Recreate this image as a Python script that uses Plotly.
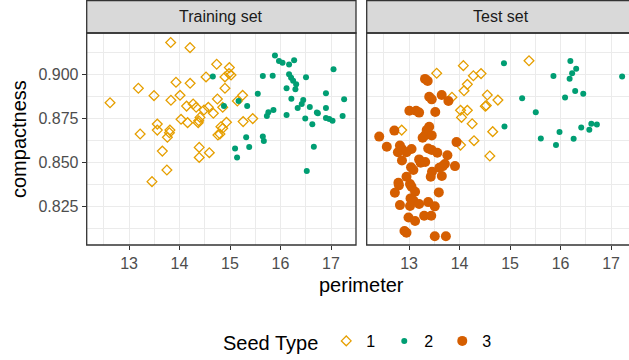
import plotly.graph_objects as go

# ---- Training set ----
train_perim_1 = [13.825, 14.208, 14.736, 14.987, 14.525, 14.90, 14.98, 15.02, 13.93, 14.21,
                 13.185, 13.495, 14.01, 13.83, 14.90, 15.25, 15.145, 14.75, 12.624, 14.14,
                 14.27, 14.33, 14.485, 14.57, 14.67, 14.855, 14.406, 14.03, 14.16, 14.37,
                 14.38, 14.93, 15.26, 15.45, 13.56, 13.56, 13.22, 13.81, 13.80, 13.76,
                 14.82, 14.855, 14.76, 14.80, 14.39, 14.39, 14.59, 13.66, 13.75, 13.455]
train_compact_1 = [0.9180, 0.9151, 0.9057, 0.9038, 0.8985, 0.8985, 0.9004, 0.8996, 0.8955, 0.8949,
                   0.8921, 0.8879, 0.8881, 0.8853, 0.8921, 0.8881, 0.8849, 0.8860, 0.8839, 0.8820,
                   0.8832, 0.8813, 0.8798, 0.8813, 0.8779, 0.8813, 0.8756, 0.8745, 0.8726, 0.8726,
                   0.8737, 0.8728, 0.8732, 0.8749, 0.8718, 0.8684, 0.8662, 0.8684, 0.8669, 0.8643,
                   0.8703, 0.8694, 0.8656, 0.8662, 0.8586, 0.8529, 0.8556, 0.8565, 0.8458, 0.8392]

train_perim_2 = [15.89, 15.97, 16.04, 16.17, 16.27, 17.05, 14.66, 15.65, 15.845, 16.17,
                 16.21, 16.25, 16.31, 16.505, 16.12, 16.295, 15.55, 16.90, 16.215, 15.17,
                 16.45, 16.42, 17.26, 14.88, 15.34, 16.34, 16.58, 16.90, 16.72, 16.74,
                 15.86, 15.76, 15.73, 16.12, 16.49, 16.90, 16.965, 17.03, 17.23, 16.63,
                 15.32, 15.65, 15.67, 15.10, 15.38, 15.14, 16.66, 16.52]
train_compact_2 = [0.9106, 0.9076, 0.9066, 0.9055, 0.9079, 0.9028, 0.8987, 0.8991, 0.8992, 0.9000,
                   0.8981, 0.8964, 0.8943, 0.8983, 0.8921, 0.8915, 0.8890, 0.8892, 0.8862, 0.8849,
                   0.8854, 0.8832, 0.8858, 0.8820, 0.8820, 0.8809, 0.8815, 0.8809, 0.8783, 0.8779,
                   0.8798, 0.8785, 0.8764, 0.8769, 0.8749, 0.8752, 0.8747, 0.8737, 0.8764, 0.8717,
                   0.8643, 0.8647, 0.8622, 0.8580, 0.8588, 0.8528, 0.8590, 0.8452]

# ---- Test set ----
test_perim_1 = [13.548, 14.076, 14.274, 14.426, 14.155, 14.089, 15.376, 13.85, 14.55, 14.76,
                14.51, 14.53, 14.02, 14.155, 14.04, 14.25, 12.855, 14.657, 14.287, 14.02, 14.60]
test_compact_1 = [0.9006, 0.9049, 0.8992, 0.9004, 0.8943, 0.8907, 0.9077, 0.8870, 0.8883, 0.8854,
                  0.8819, 0.8823, 0.8796, 0.8796, 0.8756, 0.8720, 0.8684, 0.8675, 0.8624, 0.8599, 0.8537]

test_perim_2 = [14.88, 16.195, 16.31, 16.23, 15.86, 16.18, 17.22, 16.29, 16.45, 16.09,
                15.24, 15.51, 14.89, 16.61, 16.72, 16.41, 16.57, 15.98, 15.61, 16.26, 15.91]
test_compact_2 = [0.9062, 0.9076, 0.9032, 0.9006, 0.8991, 0.8975, 0.8987, 0.8906, 0.8890, 0.8868,
                  0.8864, 0.8785, 0.8705, 0.8720, 0.8715, 0.8698, 0.8686, 0.8673, 0.8637, 0.8635, 0.8599]

test_perim_3 = [13.317, 13.37, 13.647, 13.40, 13.45, 13.78, 13.007, 13.14, 13.20, 13.52,
                13.40, 13.35, 12.71, 12.41, 13.317, 13.45, 13.27, 13.94, 12.56, 12.82,
                12.86, 12.78, 13.05, 12.95, 13.38, 13.45, 13.56, 13.76, 12.86, 13.20,
                13.23, 13.32, 13.71, 13.67, 13.91, 13.04, 13.086, 13.455, 13.60, 13.43,
                13.65, 12.95, 12.79, 12.80, 13.02, 13.05, 13.12, 12.72, 13.59, 13.03,
                13.09, 13.20, 12.82, 13.02, 13.38, 13.51, 12.99, 13.30, 13.44, 13.12,
                12.91, 12.95, 13.51, 13.73]
test_compact_3 = [0.8974, 0.8962, 0.8883, 0.8873, 0.8858, 0.8849, 0.8794, 0.8794, 0.8783, 0.8786,
                  0.8703, 0.8684, 0.8681, 0.8647, 0.8654, 0.8654, 0.8641, 0.8616, 0.8590, 0.8596,
                  0.8577, 0.8558, 0.8577, 0.8558, 0.8580, 0.8571, 0.8556, 0.8541, 0.8512, 0.8518,
                  0.8499, 0.8503, 0.8492, 0.8480, 0.8480, 0.8473, 0.8458, 0.8448, 0.8471, 0.8420,
                  0.8424, 0.8420, 0.8386, 0.8371, 0.8378, 0.8363, 0.8335, 0.8329, 0.8331, 0.8297,
                  0.8284, 0.8265, 0.8259, 0.8254, 0.8276, 0.8252, 0.8189, 0.8199, 0.8199, 0.8169,
                  0.8112, 0.8102, 0.8083, 0.8083]

x_ticks = [13, 14, 15, 16, 17]
y_ticks = [0.825, 0.850, 0.875, 0.900]
y_ticklabels = ["0.825", "0.850", "0.875", "0.900"]
panel_titles = ["Training set", "Test set"]
seed_names = ["1", "2", "3"]

C1, C2, C3 = "#E69F00", "#009E73", "#D55E00"
FONT = "Liberation Sans, Arial, sans-serif"
W, H = 629, 360

def s1(x, y, xa, ya, show):
    return go.Scatter(x=x, y=y, mode="markers", name=seed_names[0], legendgroup="1",
                      showlegend=show, xaxis=xa, yaxis=ya,
                      marker=dict(symbol="diamond-open", size=7.5, color=C1, line=dict(width=1.3, color=C1)))

def s2(x, y, xa, ya, show):
    return go.Scatter(x=x, y=y, mode="markers", name=seed_names[1], legendgroup="2",
                      showlegend=show, xaxis=xa, yaxis=ya,
                      marker=dict(symbol="circle", size=6, color=C2, line=dict(width=0)))

def s3(x, y, xa, ya, show):
    return go.Scatter(x=x, y=y, mode="markers", name=seed_names[2], legendgroup="3",
                      showlegend=show, xaxis=xa, yaxis=ya,
                      marker=dict(symbol="circle", size=10, color=C3, line=dict(width=0)))

fig = go.Figure()
fig.add_trace(s1(train_perim_1, train_compact_1, "x", "y", True))
fig.add_trace(s2(train_perim_2, train_compact_2, "x", "y", True))
fig.add_trace(s1(test_perim_1, test_compact_1, "x2", "y2", False))
fig.add_trace(s2(test_perim_2, test_compact_2, "x2", "y2", False))
fig.add_trace(s3(test_perim_3, test_compact_3, "x2", "y2", True))

p1 = (86.7 / W, 356.0 / W)
p2 = (366.7 / W, 1.0)
ytop_px, ybot_px = 33.0, 245.0
ydom = ((H - ybot_px) / H, (H - ytop_px) / H)

grid_major = "#EBEBEB"
xcommon = dict(tickvals=x_ticks, ticks="outside", ticklen=4, tickwidth=1.1, tickcolor="#333333",
               tickfont=dict(family=FONT, size=16, color="#4D4D4D"), automargin=False,
               showgrid=True, gridcolor=grid_major, gridwidth=1.1, zeroline=False, showline=False,
               minor=dict(dtick=0.5, tick0=12.5, showgrid=True, gridcolor=grid_major, gridwidth=0.6, ticks=""))
fig.update_layout(
    template="none",
    width=W, height=H, margin=dict(l=0, r=0, t=0, b=0, autoexpand=False),
    paper_bgcolor="white", plot_bgcolor="white",
    xaxis=dict(domain=p1, range=[12.162, 17.495], anchor="y", **xcommon),
    xaxis2=dict(domain=p2, range=[12.162, 17.356], anchor="y2", **xcommon),
    yaxis=dict(domain=ydom, range=[0.8033, 0.9234], anchor="x", tickvals=y_ticks, ticktext=y_ticklabels,
               ticks="outside", ticklen=4, tickwidth=1.1, tickcolor="#333333", automargin=False,
               tickfont=dict(family=FONT, size=16, color="#4D4D4D"),
               showgrid=True, gridcolor=grid_major, gridwidth=1.1, zeroline=False, showline=False,
               minor=dict(dtick=0.025, tick0=0.8125, showgrid=True, gridcolor=grid_major, gridwidth=0.6, ticks="")),
    yaxis2=dict(domain=ydom, range=[0.8033, 0.9234], anchor="x2", matches="y", tickvals=y_ticks,
                showticklabels=False, ticks="", automargin=False,
                showgrid=True, gridcolor=grid_major, gridwidth=1.1, zeroline=False, showline=False,
                minor=dict(dtick=0.025, tick0=0.8125, showgrid=True, gridcolor=grid_major, gridwidth=0.6, ticks="")),
    legend=dict(orientation="h", x=361 / W, xanchor="center", y=(H - 342) / H, yanchor="middle",
                title=dict(text="Seed Type", font=dict(family=FONT, size=20, color="black")),
                font=dict(family=FONT, size=16, color="black"), bgcolor="rgba(0,0,0,0)",
                borderwidth=0, itemsizing="trace", entrywidth=13, entrywidthmode="pixels"),
    showlegend=True,
)

strip_top = (H - 0.7) / H
shapes = []
for (a, b) in (p1, (p2[0], 1.05)):
    shapes.append(dict(type="rect", xref="paper", yref="paper", x0=a, x1=b, y0=ydom[1], y1=strip_top,
                       fillcolor="#D9D9D9", line=dict(color="#333333", width=1.3), layer="above"))
    shapes.append(dict(type="rect", xref="paper", yref="paper", x0=a, x1=b, y0=ydom[0], y1=ydom[1],
                       fillcolor="rgba(0,0,0,0)", line=dict(color="#333333", width=1.3), layer="above"))
fig.update_layout(shapes=shapes)

ann = []
strip_cy = (H - 16.5) / H
ann.append(dict(text=panel_titles[0], x=(p1[0] + p1[1]) / 2, y=strip_cy, xref="paper", yref="paper",
                showarrow=False, xanchor="center", yanchor="middle",
                font=dict(family=FONT, size=16, color="#1A1A1A")))
ann.append(dict(text=panel_titles[1], x=(366.7 + 635.5) / 2 / W, y=strip_cy, xref="paper", yref="paper",
                showarrow=False, xanchor="center", yanchor="middle",
                font=dict(family=FONT, size=16, color="#1A1A1A")))
ann.append(dict(text="perimeter", x=361 / W, y=(H - 285) / H, xref="paper", yref="paper",
                showarrow=False, xanchor="center", yanchor="middle",
                font=dict(family=FONT, size=20, color="black")))
ann.append(dict(text="compactness", x=19 / W, y=(H - 139) / H, xref="paper", yref="paper",
                showarrow=False, xanchor="center", yanchor="middle", textangle=-90,
                font=dict(family=FONT, size=20, color="black")))
fig.update_layout(annotations=ann)

fig.write_html("out.html", config={"displayModeBar": False},
               post_script="document.body.style.margin='0';document.body.style.overflow='hidden';")
